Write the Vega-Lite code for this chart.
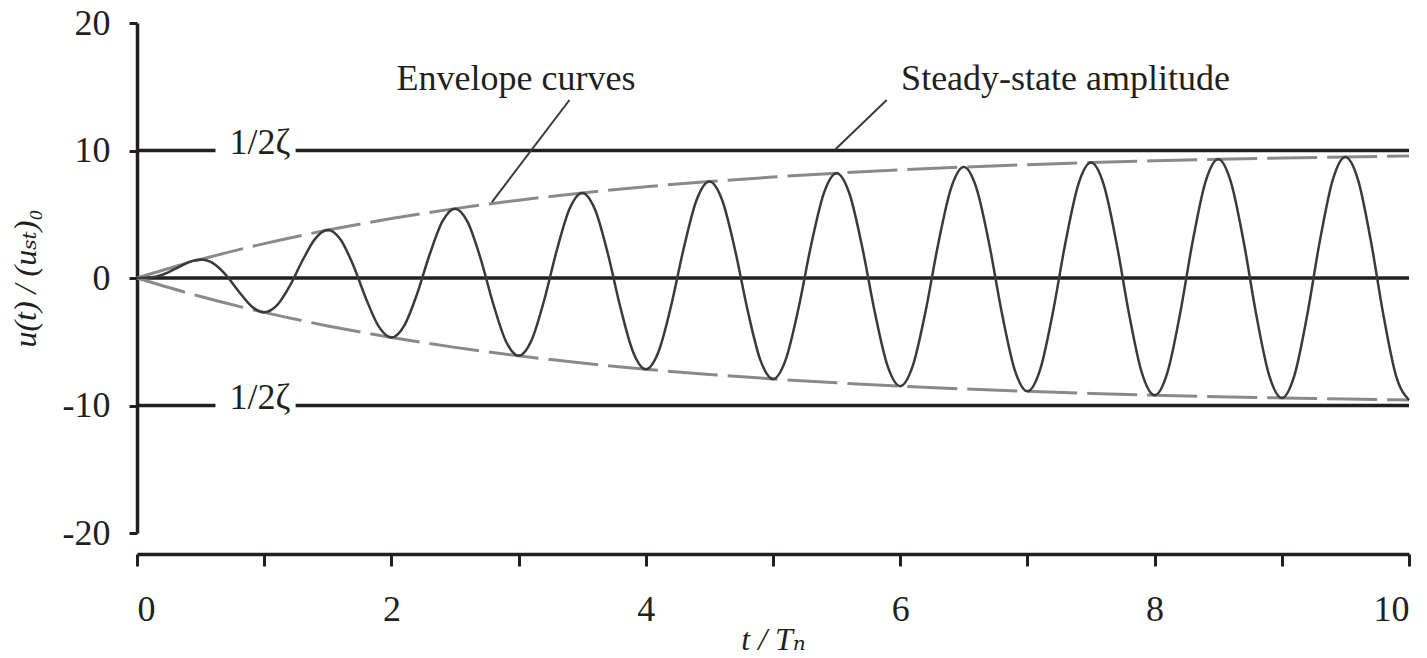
{
  "$schema": "https://vega.github.io/schema/vega-lite/v6.json",
  "width": 1272,
  "height": 510,
  "autosize": {"type": "none"},
  "padding": {"left": 137, "top": 23, "right": 18, "bottom": 125},
  "background": "white",
  "config": {"view": {"stroke": null}, "font": "'Liberation Serif', 'DejaVu Serif', serif"},
  "datasets": {
    "refs": [
      {"t": 0, "t2": 10, "v": 0},
      {"t": 0, "t2": 0.617, "v": 10},
      {"t": 1.247, "t2": 10, "v": 10},
      {"t": 0, "t2": 0.617, "v": -10},
      {"t": 1.247, "t2": 10, "v": -10}
    ],
    "env": [
      {"t": 0, "v": 0, "side": "upper"}, {"t": 0.5, "v": 1.454, "side": "upper"}, {"t": 1, "v": 2.696, "side": "upper"},
      {"t": 1.5, "v": 3.758, "side": "upper"}, {"t": 2, "v": 4.665, "side": "upper"}, {"t": 2.5, "v": 5.441, "side": "upper"},
      {"t": 3, "v": 6.104, "side": "upper"}, {"t": 3.5, "v": 6.67, "side": "upper"}, {"t": 4, "v": 7.154, "side": "upper"},
      {"t": 4.5, "v": 7.568, "side": "upper"}, {"t": 5, "v": 7.921, "side": "upper"}, {"t": 5.5, "v": 8.223, "side": "upper"},
      {"t": 6, "v": 8.482, "side": "upper"}, {"t": 6.5, "v": 8.702, "side": "upper"}, {"t": 7, "v": 8.891, "side": "upper"},
      {"t": 7.5, "v": 9.052, "side": "upper"}, {"t": 8, "v": 9.19, "side": "upper"}, {"t": 8.5, "v": 9.308, "side": "upper"},
      {"t": 9, "v": 9.408, "side": "upper"}, {"t": 9.5, "v": 9.494, "side": "upper"}, {"t": 10, "v": 9.568, "side": "upper"},
      {"t": 0, "v": 0, "side": "lower"}, {"t": 0.5, "v": -1.454, "side": "lower"}, {"t": 1, "v": -2.696, "side": "lower"},
      {"t": 1.5, "v": -3.758, "side": "lower"}, {"t": 2, "v": -4.665, "side": "lower"}, {"t": 2.5, "v": -5.441, "side": "lower"},
      {"t": 3, "v": -6.104, "side": "lower"}, {"t": 3.5, "v": -6.67, "side": "lower"}, {"t": 4, "v": -7.154, "side": "lower"},
      {"t": 4.5, "v": -7.568, "side": "lower"}, {"t": 5, "v": -7.921, "side": "lower"}, {"t": 5.5, "v": -8.223, "side": "lower"},
      {"t": 6, "v": -8.482, "side": "lower"}, {"t": 6.5, "v": -8.702, "side": "lower"}, {"t": 7, "v": -8.891, "side": "lower"},
      {"t": 7.5, "v": -9.052, "side": "lower"}, {"t": 8, "v": -9.19, "side": "lower"}, {"t": 8.5, "v": -9.308, "side": "lower"},
      {"t": 9, "v": -9.408, "side": "lower"}, {"t": 9.5, "v": -9.494, "side": "lower"}, {"t": 10, "v": -9.568, "side": "lower"}
    ],
    "osc": [
      {"t": 0.0, "v": 0}, {"t": 0.1, "v": 0.035}, {"t": 0.2, "v": 0.258}, {"t": 0.3, "v": 0.711}, {"t": 0.4, "v": 1.215},
      {"t": 0.5, "v": 1.454}, {"t": 0.6, "v": 1.146}, {"t": 0.7, "v": 0.228}, {"t": 0.8, "v": -1.056}, {"t": 0.9, "v": -2.214},
      {"t": 1.0, "v": -2.696}, {"t": 1.1, "v": -2.156}, {"t": 1.2, "v": -0.645}, {"t": 1.3, "v": 1.352}, {"t": 1.4, "v": 3.068},
      {"t": 1.5, "v": 3.758}, {"t": 1.6, "v": 3.018}, {"t": 1.7, "v": 1.0}, {"t": 1.8, "v": -1.605}, {"t": 1.9, "v": -3.798},
      {"t": 2.0, "v": -4.665}, {"t": 2.1, "v": -3.755}, {"t": 2.2, "v": -1.304}, {"t": 2.3, "v": 1.821}, {"t": 2.4, "v": 4.422},
      {"t": 2.5, "v": 5.441}, {"t": 2.6, "v": 4.386}, {"t": 2.7, "v": 1.563}, {"t": 2.8, "v": -2.005}, {"t": 2.9, "v": -4.955},
      {"t": 3.0, "v": -6.104}, {"t": 3.1, "v": -4.924}, {"t": 3.2, "v": -1.785}, {"t": 3.3, "v": 2.163}, {"t": 3.4, "v": 5.411},
      {"t": 3.5, "v": 6.67}, {"t": 3.6, "v": 5.384}, {"t": 3.7, "v": 1.975}, {"t": 3.8, "v": -2.297}, {"t": 3.9, "v": -5.8},
      {"t": 4.0, "v": -7.154}, {"t": 4.1, "v": -5.778}, {"t": 4.2, "v": -2.137}, {"t": 4.3, "v": 2.413}, {"t": 4.4, "v": 6.133},
      {"t": 4.5, "v": 7.568}, {"t": 4.6, "v": 6.114}, {"t": 4.7, "v": 2.276}, {"t": 4.8, "v": -2.511}, {"t": 4.9, "v": -6.418},
      {"t": 5.0, "v": -7.921}, {"t": 5.1, "v": -6.401}, {"t": 5.2, "v": -2.394}, {"t": 5.3, "v": 2.595}, {"t": 5.4, "v": 6.661},
      {"t": 5.5, "v": 8.223}, {"t": 5.6, "v": 6.646}, {"t": 5.7, "v": 2.496}, {"t": 5.8, "v": -2.667}, {"t": 5.9, "v": -6.868},
      {"t": 6.0, "v": -8.482}, {"t": 6.1, "v": -6.857}, {"t": 6.2, "v": -2.581}, {"t": 6.3, "v": 2.729}, {"t": 6.4, "v": 7.046},
      {"t": 6.5, "v": 8.702}, {"t": 6.6, "v": 7.036}, {"t": 6.7, "v": 2.655}, {"t": 6.8, "v": -2.781}, {"t": 6.9, "v": -7.198},
      {"t": 7.0, "v": -8.891}, {"t": 7.1, "v": -7.188}, {"t": 7.2, "v": -2.719}, {"t": 7.3, "v": 2.826}, {"t": 7.4, "v": 7.328},
      {"t": 7.5, "v": 9.052}, {"t": 7.6, "v": 7.32}, {"t": 7.7, "v": 2.773}, {"t": 7.8, "v": -2.864}, {"t": 7.9, "v": -7.439},
      {"t": 8.0, "v": -9.19}, {"t": 8.1, "v": -7.432}, {"t": 8.2, "v": -2.819}, {"t": 8.3, "v": 2.897}, {"t": 8.4, "v": 7.533},
      {"t": 8.5, "v": 9.308}, {"t": 8.6, "v": 7.527}, {"t": 8.7, "v": 2.858}, {"t": 8.8, "v": -2.925}, {"t": 8.9, "v": -7.615},
      {"t": 9.0, "v": -9.408}, {"t": 9.1, "v": -7.609}, {"t": 9.2, "v": -2.892}, {"t": 9.3, "v": 2.95}, {"t": 9.4, "v": 7.683},
      {"t": 9.5, "v": 9.494}, {"t": 9.6, "v": 7.68}, {"t": 9.7, "v": 2.92}, {"t": 9.8, "v": -2.97}, {"t": 9.9, "v": -7.742},
      {"t": 10.0, "v": -9.568}
    ],
    "leaders": [
      {"t": 3.4, "v": 13.96, "t2": 2.79, "v2": 5.95},
      {"t": 5.894, "v": 13.96, "t2": 5.485, "v2": 10.04}
    ],
    "notes": [
      {"t": 2.98, "v": 14.75, "label": "Envelope curves"},
      {"t": 7.30, "v": 14.75, "label": "Steady-state amplitude"}
    ],
    "zeta": [
      {"t": 0.967, "v": 10, "label": "1/2ζ"},
      {"t": 0.967, "v": -10, "label": "1/2ζ"}
    ]
  },
  "encoding": {
    "x": {
      "field": "t", "type": "quantitative",
      "scale": {"domain": [0, 10], "nice": false, "zero": false},
      "axis": {
        "values": [0, 1, 2, 3, 4, 5, 6, 7, 8, 9, 10],
        "labelExpr": "datum.value % 2 == 0 ? datum.label : ''",
        "offset": 21, "grid": false,
        "domainColor": "#231f20", "domainWidth": 3.5,
        "tickColor": "#231f20", "tickWidth": 3, "tickSize": 12,
        "labelFont": "'Liberation Serif', 'DejaVu Serif', serif", "labelFontSize": 36, "labelColor": "#231f20", "labelPadding": 26,
        "title": "t / Tₙ", "titleFont": "'Liberation Serif', 'DejaVu Serif', serif", "titleFontStyle": "italic", "titleFontWeight": "normal",
        "titleFontSize": 32, "titleColor": "#231f20", "titleBaseline": "alphabetic", "titleY": 95
      }
    },
    "y": {
      "field": "v", "type": "quantitative",
      "scale": {"domain": [-20, 20], "nice": false, "zero": false},
      "axis": {
        "values": [-20, -10, 0, 10, 20],
        "labelExpr": "datum.value < 0 ? '-' + abs(datum.value) : '' + datum.value",
        "grid": false,
        "domainColor": "#231f20", "domainWidth": 3.5,
        "tickColor": "#231f20", "tickWidth": 3, "tickSize": 8,
        "labelFont": "'Liberation Serif', 'DejaVu Serif', serif", "labelFontSize": 36, "labelColor": "#231f20", "labelPadding": 19,
        "title": "u(t) / (uₛₜ)₀", "titleFont": "'Liberation Serif', 'DejaVu Serif', serif", "titleFontStyle": "italic", "titleFontWeight": "normal",
        "titleFontSize": 32, "titleColor": "#231f20", "titleX": -112, "titleY": 255, "titleAngle": -90,
        "titleAlign": "center", "titleBaseline": "middle"
      }
    }
  },
  "layer": [
    {
      "data": {"name": "refs"},
      "mark": {"type": "rule", "color": "#231f20", "strokeWidth": 3.5},
      "encoding": {"x2": {"field": "t2"}}
    },
    {
      "data": {"name": "env"},
      "mark": {"type": "line", "color": "#8a8a8a", "strokeWidth": 3, "strokeDash": [50, 10], "interpolate": "monotone"},
      "encoding": {"detail": {"field": "side"}}
    },
    {
      "data": {"name": "osc"},
      "mark": {"type": "line", "color": "#3a3a3a", "strokeWidth": 2.5, "interpolate": "monotone"},
      "encoding": {}
    },
    {
      "data": {"name": "leaders"},
      "mark": {"type": "rule", "color": "#3a3a3a", "strokeWidth": 2},
      "encoding": {"x2": {"field": "t2"}, "y2": {"field": "v2"}}
    },
    {
      "data": {"name": "notes"},
      "mark": {"type": "text", "font": "'Liberation Serif', 'DejaVu Serif', serif", "fontSize": 36, "color": "#231f20", "align": "center", "baseline": "alphabetic"},
      "encoding": {"text": {"field": "label"}}
    },
    {
      "data": {"name": "zeta"},
      "mark": {"type": "text", "font": "'Liberation Serif', 'DejaVu Serif', serif", "fontSize": 36, "color": "#231f20", "align": "center", "baseline": "alphabetic", "dy": 3},
      "encoding": {"text": {"field": "label"}}
    }
  ]
}
